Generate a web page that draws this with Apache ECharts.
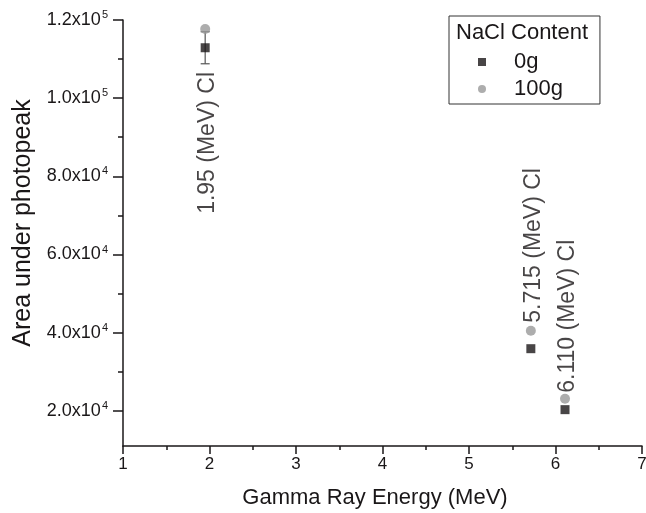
<!DOCTYPE html>
<html>
<head>
<meta charset="utf-8">
<script src="https://cdn.jsdelivr.net/npm/echarts@6/dist/echarts.min.js"></script>
<style>
  html, body { margin: 0; padding: 0; background: #fff; }
  #chart { width: 646px; height: 513px; }
</style>
</head>
<body>
<div id="chart"></div>
<script>
// Gamma ray lines (MeV) and photopeak areas
const energies = [1.95, 5.715, 6.110];
const area0g = [112900, 35900, 20300];
const area100g = [117700, 40500, 23100];
const err0g = [4100, 0, 0];
const peakNames = ['1.95 (MeV) Cl', '5.715 (MeV) Cl', '6.110 (MeV) Cl'];
const yMajorTicks = [20000, 40000, 60000, 80000, 100000, 120000];
const yMinorTicks = [30000, 50000, 70000, 90000, 110000];

const FONT = 'Liberation Sans, Arial, sans-serif';
const INK = '#1a1718';

// label placement for the rotated peak names
// (offset is in the rotated text frame: [along text, across text])
const peakLabelStyle = [
  { offset: [-43, 2], align: 'right' },
  { offset: [8, 3], align: 'left' },
  { offset: [6, 3], align: 'left' }
];

function sciLabel(v) {
  const exp = Math.floor(Math.log10(v));
  const mant = (v / Math.pow(10, exp)).toFixed(1);
  return '{b|' + mant + 'x10}{s|' + exp + '}';
}

const chart = echarts.init(document.getElementById('chart'));

const option = {
  animation: false,
  backgroundColor: '#fff',
  textStyle: { fontFamily: FONT },
  grid: { left: 123, right: 4, top: 20, bottom: 67, outerBoundsMode: 'none' },
  title: {
    text: 'NaCl Content',
    left: 456,
    top: 22,
    padding: 0,
    textStyle: { fontFamily: FONT, fontSize: 22, fontWeight: 'normal', color: INK }
  },
  legend: {
    data: [
      { name: '0g', icon: 'path://M0,0L10,0L10,10L0,10Z' },
      { name: '100g', icon: 'circle' }
    ],
    orient: 'vertical',
    left: 449,
    top: 16,
    padding: [35, 37, 4, 29],
    itemGap: 5,
    itemWidth: 8,
    itemHeight: 8,
    borderColor: '#333',
    borderWidth: 1,
    textStyle: { fontFamily: FONT, fontSize: 22, color: INK, padding: [0, 0, 0, 23] }
  },
  xAxis: {
    type: 'value',
    min: 1,
    max: 7,
    interval: 1,
    name: 'Gamma Ray Energy (MeV)',
    nameLocation: 'middle',
    nameGap: 41,
    nameTextStyle: { fontFamily: FONT, fontSize: 22, color: INK, padding: [0, 15, 0, 0] },
    splitLine: { show: false },
    axisLine: { lineStyle: { color: INK, width: 1.5 } },
    axisTick: { length: 8, lineStyle: { color: INK, width: 1.5 } },
    minorTick: { show: true, splitNumber: 2, length: 4, lineStyle: { color: INK, width: 1.5 } },
    axisLabel: { fontFamily: FONT, fontSize: 17, color: INK, margin: 10 }
  },
  yAxis: [
    {
      type: 'value',
      min: 11000,
      max: 120000,
      name: 'Area under photopeak',
      nameLocation: 'middle',
      nameGap: 87,
      nameTextStyle: { fontFamily: FONT, fontSize: 25, color: INK, padding: [0, 0, 0, 20] },
      splitLine: { show: false },
      axisLine: { lineStyle: { color: INK, width: 1.5 } },
      axisTick: { customValues: yMajorTicks, length: 10, lineStyle: { color: INK, width: 1.5 } },
      axisLabel: {
        customValues: yMajorTicks,
        margin: 15,
        formatter: sciLabel,
        rich: {
          b: { fontFamily: FONT, fontSize: 18, color: INK },
          s: { fontFamily: FONT, fontSize: 11, color: INK, verticalAlign: 'bottom', padding: [0, 0, 10, 1] }
        }
      }
    },
    {
      type: 'value',
      min: 11000,
      max: 120000,
      position: 'left',
      splitLine: { show: false },
      axisLine: { show: false },
      axisTick: { customValues: yMinorTicks, length: 5, lineStyle: { color: INK, width: 1.5 } },
      axisLabel: { show: false }
    }
  ],
  series: [
    {
      name: 'errbar',
      type: 'custom',
      silent: true,
      z: 1,
      data: energies
        .map((x, i) => [x, area0g[i] - err0g[i], area0g[i] + err0g[i], err0g[i]])
        .filter(d => d[3] > 0),
      renderItem: function (params, api) {
        const lo = api.coord([api.value(0), api.value(1)]);
        const hi = api.coord([api.value(0), api.value(2)]);
        const cap = 4.5;
        const style = { stroke: '#555', lineWidth: 1.2 };
        return {
          type: 'group',
          children: [
            { type: 'line', shape: { x1: lo[0], y1: lo[1], x2: hi[0], y2: hi[1] }, style: style },
            { type: 'line', shape: { x1: lo[0] - cap, y1: lo[1], x2: lo[0] + cap, y2: lo[1] }, style: style },
            { type: 'line', shape: { x1: hi[0] - cap, y1: hi[1], x2: hi[0] + cap, y2: hi[1] }, style: style }
          ]
        };
      }
    },
    {
      name: '0g',
      type: 'scatter',
      symbol: 'rect',
      symbolSize: 9,
      z: 2,
      itemStyle: { color: INK },
      data: energies.map((x, i) => [x, area0g[i]])
    },
    {
      name: '100g',
      type: 'scatter',
      symbol: 'circle',
      symbolSize: 10,
      z: 3,
      itemStyle: { color: '#999999' },
      data: energies.map((x, i) => ({
        value: [x, area100g[i]],
        label: {
          show: true,
          formatter: peakNames[i],
          position: 'inside',
          rotate: 90,
          offset: peakLabelStyle[i].offset,
          align: peakLabelStyle[i].align,
          verticalAlign: 'middle',
          fontFamily: FONT,
          fontSize: 23,
          color: INK
        }
      }))
    }
  ]
};

chart.setOption(option);
</script>
</body>
</html>
